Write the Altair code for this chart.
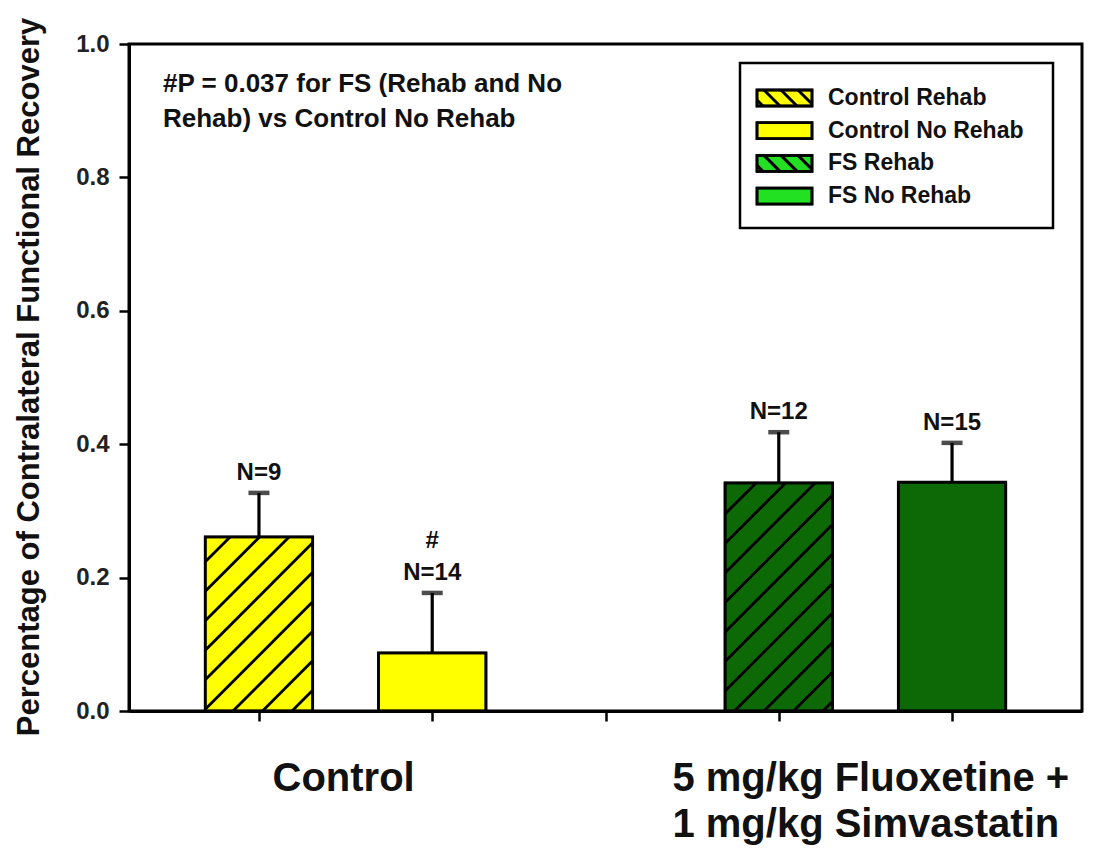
import altair as alt
import pandas as pd

# ---------------- data ----------------
groups = ["Control Rehab", "Control No Rehab", "FS Rehab", "FS No Rehab"]
positions = [1, 2, 4, 5]
means = [0.261, 0.087, 0.342, 0.343]
errors = [0.066, 0.090, 0.076, 0.059]
n_labels = ["N=9", "N=14", "N=12", "N=15"]
sig_marks = ["", "#", "", ""]
hatched = [True, False, True, False]
bar_colors = ["#ffff00", "#ffff00", "#0d6806", "#0d6806"]
legend_colors = ["#ffff00", "#ffff00", "#22e022", "#22e022"]
group_names = ["Control", "5 mg/kg Fluoxetine +\n1 mg/kg Simvastatin"]
group_centers = [1.5, 4.5]
y_ticks = [0.0, 0.2, 0.4, 0.6, 0.8, 1.0]
x_ticks = [1, 2, 3, 4, 5]
note = "#P = 0.037 for FS (Rehab and No\nRehab) vs Control No Rehab"
y_title = "Percentage of Contralateral Functional Recovery"

# ---------------- layout ----------------
W, H = 953, 667
XD = [0.25, 5.75]
YD = [0.0, 1.0]
PPX = W / (XD[1] - XD[0])
PPY = H / (YD[1] - YD[0])
HALF = 0.31
FONT = "Liberation Sans"
INK = "#111111"


def px2x(p):
    return XD[0] + p / PPX


def px2y(p):
    return YD[1] - p / PPY


def x2px(v):
    return (v - XD[0]) * PPX


def y2px(v):
    return (YD[1] - v) * PPY


def hatch(L, R, T, B, spacing, phase, down=False):
    """45-degree hatch segments clipped to a pixel rectangle."""
    segs = []
    if not down:  # lines x + y = c  ("/")
        c = phase - spacing * 200
        while c < R + B + spacing:
            xlo = max(L, c - B)
            xhi = min(R, c - T)
            if xhi - xlo > 0.5:
                segs.append((xlo, c - xlo, xhi, c - xhi))
            c += spacing
    else:  # lines x - y = c  ("\")
        c = phase - spacing * 200
        while c < R - T + spacing:
            xlo = max(L, c + T)
            xhi = min(R, c + B)
            if xhi - xlo > 0.5:
                segs.append((xlo, xlo - c, xhi, xhi - c))
            c += spacing
    return segs


bars = pd.DataFrame({
    "group": groups,
    "pos": positions,
    "mean": means,
    "top": [m + e for m, e in zip(means, errors)],
    "label": n_labels,
    "sig": sig_marks,
    "color": bar_colors,
})
bars["left"] = bars["pos"] - HALF
bars["right"] = bars["pos"] + HALF
bars["zero"] = 0.0

hrows = []
for i in range(len(groups)):
    if not hatched[i]:
        continue
    L = x2px(positions[i] - HALF)
    R = x2px(positions[i] + HALF)
    T = y2px(means[i])
    B = y2px(0.0)
    for (xa, ya, xb, yb) in hatch(L, R, T, B, 29.5, 4.0):
        hrows.append({"x1": px2x(xa), "y1": px2y(ya), "x2": px2x(xb), "y2": px2y(yb)})
hatch_df = pd.DataFrame(hrows)

xs = alt.Scale(domain=XD, nice=False, zero=False)
ys = alt.Scale(domain=YD, nice=False, zero=False)

xaxis = alt.Axis(values=x_ticks, labels=False, title=None, grid=False, ticks=True,
                 tickSize=10, tickWidth=2.5, tickColor="black",
                 domainColor="black", domainWidth=3)
yaxis = alt.Axis(values=y_ticks, format=".1f", grid=False, title=y_title,
                 tickSize=10, tickWidth=2.5, tickColor="black",
                 domainColor="black", domainWidth=3,
                 labelFont=FONT, labelFontWeight="bold", labelFontSize=24,
                 labelColor="#222222", labelPadding=10,
                 titleFont=FONT, titleFontWeight="bold", titleFontSize=31,
                 titleColor=INK, titleX=-100, titleY=H / 2 - 1,
                 titleAngle=270, titleAlign="center", titleBaseline="middle")

bar_layer = alt.Chart(bars).mark_rect(stroke="black", strokeWidth=2.5).encode(
    x=alt.X("left:Q", scale=xs, axis=xaxis),
    x2="right:Q",
    y=alt.Y("zero:Q", scale=ys, axis=yaxis),
    y2="mean:Q",
    fill=alt.Fill("color:N", scale=None),
)

hatch_layer = alt.Chart(hatch_df).mark_rule(color="black", strokeWidth=2.8).encode(
    x=alt.X("x1:Q", scale=xs), x2="x2:Q",
    y=alt.Y("y1:Q", scale=ys), y2="y2:Q",
)

# redraw outline above hatch
outline = alt.Chart(bars).mark_rect(stroke="black", strokeWidth=2.8, fillOpacity=0).encode(
    x=alt.X("left:Q", scale=xs), x2="right:Q",
    y=alt.Y("zero:Q", scale=ys), y2="mean:Q",
)

stem = alt.Chart(bars).mark_rule(color="black", strokeWidth=3.2).encode(
    x=alt.X("pos:Q", scale=xs), y=alt.Y("mean:Q", scale=ys), y2="top:Q",
)
cap = alt.Chart(bars).mark_tick(color="black", orient="horizontal", size=21, thickness=4.5).encode(
    x=alt.X("pos:Q", scale=xs), y=alt.Y("top:Q", scale=ys),
)

nlab = alt.Chart(bars).mark_text(font=FONT, fontWeight="bold", fontSize=24, color=INK,
                                 baseline="alphabetic", dy=-13).encode(
    x=alt.X("pos:Q", scale=xs), y=alt.Y("top:Q", scale=ys), text="label:N",
)
siglab = alt.Chart(bars).mark_text(font=FONT, fontWeight="bold", fontSize=24, color=INK,
                                   baseline="alphabetic", dy=-45).encode(
    x=alt.X("pos:Q", scale=xs), y=alt.Y("top:Q", scale=ys), text="sig:N",
)

note_layer = alt.Chart(pd.DataFrame({"t": [note]})).mark_text(
    font=FONT, fontWeight="bold", fontSize=26, color=INK, align="left",
    baseline="alphabetic", lineBreak="\n", lineHeight=35,
).encode(x=alt.value(34), y=alt.value(48), text="t:N")

g_df = pd.DataFrame({"name": group_names, "c": group_centers})
glab1 = alt.Chart(g_df.iloc[[0]]).mark_text(
    font=FONT, fontWeight="bold", fontSize=40, color=INK, align="center",
    baseline="alphabetic", lineBreak="\n", lineHeight=46, dx=-2,
).encode(x=alt.X("c:Q", scale=xs), y=alt.value(747), text="name:N")
glab2 = alt.Chart(g_df.iloc[[1]]).mark_text(
    font=FONT, fontWeight="bold", fontSize=40, color=INK, align="left",
    baseline="alphabetic", lineBreak="\n", lineHeight=46, dx=-193,
).encode(x=alt.X("c:Q", scale=xs), y=alt.value(747), text="name:N")

# ---------------- legend (drawn by hand) ----------------
box = pd.DataFrame({"x1": [px2x(611)], "x2": [px2x(924)], "y1": [px2y(19)], "y2": [px2y(184)]})
legend_box = alt.Chart(box).mark_rect(fill="white", stroke="black", strokeWidth=2.5).encode(
    x=alt.X("x1:Q", scale=xs), x2="x2:Q", y=alt.Y("y1:Q", scale=ys), y2="y2:Q",
)

row_c = [54 + i * 32.7 for i in range(len(groups))]
SW_L, SW_R, SW_H = 628, 683, 16
leg = pd.DataFrame({
    "name": groups,
    "color": legend_colors,
    "x1": [px2x(SW_L)] * 4,
    "x2": [px2x(SW_R)] * 4,
    "y1": [px2y(c - SW_H / 2) for c in row_c],
    "y2": [px2y(c + SW_H / 2) for c in row_c],
    "tx": [px2x(699)] * 4,
    "ty": [px2y(c) for c in row_c],
})
lrows = []
for i in range(len(groups)):
    if not hatched[i]:
        continue
    T = row_c[i] - SW_H / 2
    B = row_c[i] + SW_H / 2
    for (xa, ya, xb, yb) in hatch(SW_L, SW_R, T, B, 17.0, SW_L + 7 - T, down=True):
        lrows.append({"x1": px2x(xa), "y1": px2y(ya), "x2": px2x(xb), "y2": px2y(yb)})
lh_df = pd.DataFrame(lrows)

leg_sw = alt.Chart(leg).mark_rect(stroke="black", strokeWidth=2.5).encode(
    x=alt.X("x1:Q", scale=xs), x2="x2:Q", y=alt.Y("y1:Q", scale=ys), y2="y2:Q",
    fill=alt.Fill("color:N", scale=None),
)
leg_hatch = alt.Chart(lh_df).mark_rule(color="black", strokeWidth=3).encode(
    x=alt.X("x1:Q", scale=xs), x2="x2:Q", y=alt.Y("y1:Q", scale=ys), y2="y2:Q",
)
leg_sw2 = alt.Chart(leg).mark_rect(stroke="black", strokeWidth=2.8, fillOpacity=0).encode(
    x=alt.X("x1:Q", scale=xs), x2="x2:Q", y=alt.Y("y1:Q", scale=ys), y2="y2:Q",
)
leg_txt = alt.Chart(leg).mark_text(font=FONT, fontWeight="bold", fontSize=23, color=INK,
                                   align="left", baseline="middle").encode(
    x=alt.X("tx:Q", scale=xs), y=alt.Y("ty:Q", scale=ys), text="name:N",
)

chart = alt.layer(
    bar_layer, hatch_layer, outline, stem, cap, nlab, siglab, note_layer,
    glab1, glab2, legend_box, leg_sw, leg_hatch, leg_sw2, leg_txt,
).properties(
    width=W, height=H,
    autosize=alt.AutoSizeParams(type="none"),
    padding={"left": 121, "top": 36, "right": 15, "bottom": 137},
    background="white",
).configure_view(stroke="black", strokeWidth=3)

chart.save("out.html", embed_options={"renderer": "svg", "actions": False})
